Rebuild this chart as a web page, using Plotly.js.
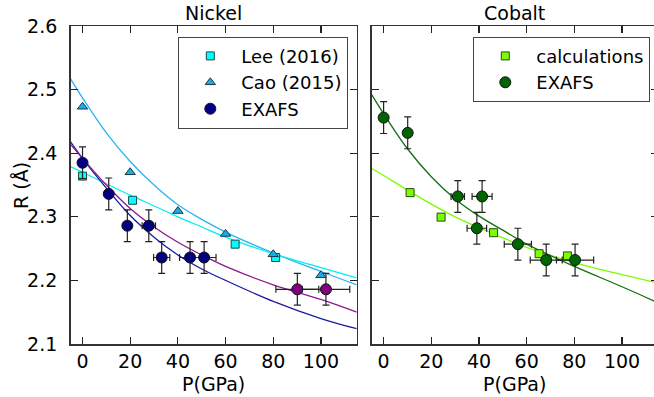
<!DOCTYPE html>
<html>
<head>
<meta charset="utf-8">
<script src="https://cdn.plot.ly/plotly-3.0.1.min.js"></script>
<style>
html, body { margin: 0; padding: 0; overflow: hidden; background: #fff; }
#chart { width: 660px; height: 397px; }
</style>
</head>
<body>
<div id="chart"></div>
<script>
// ---------- Nickel ----------
const niLeeP = [0, 21, 64, 81];
const niLeeR = [2.364, 2.326, 2.257, 2.236];

const niCaoP = [0, 20, 40, 60, 80, 100];
const niCaoR = [2.473, 2.370, 2.309, 2.273, 2.241, 2.208];

const niExafsP = [0, 11, 18.8, 27.8, 33.2, 45.1, 51.0];
const niExafsR = [2.385, 2.336, 2.286, 2.286, 2.236, 2.236, 2.236];
const niExafsPErr = [0, 0, 0, 2.8, 3.4, 4.4, 5.0];
const niExafsRErr = [0.025, 0.025, 0.025, 0.025, 0.025, 0.025, 0.025];

const niHighP = [90.1, 102.1];
const niHighR = [2.186, 2.186];
const niHighPErr = [9, 10];
const niHighRErr = [0.025, 0.025];

// fit curves
const curveP = [-5, 0, 10, 20, 30, 40, 50, 60, 80, 100, 115];
const niCaoFit   = [2.517, 2.487, 2.432, 2.387, 2.350, 2.319, 2.296, 2.276, 2.243, 2.214, 2.193];
const niLeeFit   = [2.379, 2.370, 2.352, 2.334, 2.317, 2.300, 2.284, 2.268, 2.242, 2.220, 2.204];
const niExafsFit = [2.418, 2.392, 2.345, 2.302, 2.268, 2.240, 2.218, 2.200, 2.167, 2.140, 2.124];
const niHighFit  = [2.414, 2.392, 2.350, 2.313, 2.284, 2.260, 2.240, 2.222, 2.193, 2.170, 2.150];

// ---------- Cobalt ----------
const coCalcP = [11.1, 24.1, 46.1, 65.2, 77.1];
const coCalcR = [2.338, 2.2995, 2.275, 2.242, 2.2385];

const coExafsP = [0, 10.1, 31.1, 41.3, 39.1, 56.3, 68.2, 80.3];
const coExafsR = [2.456, 2.432, 2.332, 2.332, 2.282, 2.257, 2.232, 2.232];
const coExafsPErr = [0, 0, 2.8, 4.2, 4.1, 5.7, 6.7, 7.8];
const coExafsRErr = [0.025, 0.025, 0.025, 0.025, 0.025, 0.025, 0.025, 0.025];

const coCalcFit  = [2.376, 2.365, 2.342, 2.320, 2.300, 2.283, 2.267, 2.252, 2.228, 2.209, 2.196];
const coExafsFit = [2.492, 2.462, 2.407, 2.363, 2.328, 2.301, 2.279, 2.257, 2.222, 2.190, 2.165];

const xTicks = [0, 20, 40, 60, 80, 100];
const yTicks = [2.1, 2.2, 2.3, 2.4, 2.5, 2.6];
const titles = ['Nickel', 'Cobalt'];
const xTitle = 'P(GPa)';
const yTitle = 'R (Å)';

const FONT = 'DejaVu Sans, sans-serif';

function fit(x, y, color, xa, ya) {
  return {x: x, y: y, mode: 'lines', line: {color: color, width: 1.3, shape: 'spline'},
          xaxis: xa, yaxis: ya, showlegend: false, hoverinfo: 'skip'};
}
function errs(arr, w) {
  return {type: 'data', array: arr, visible: true, color: '#222', thickness: 1.2, width: w};
}

const traces = [
  fit(curveP, niCaoFit, '#2bb3f2', 'x', 'y'),
  fit(curveP, niLeeFit, '#00f0f0', 'x', 'y'),
  fit(curveP, niExafsFit, '#1c1ca0', 'x', 'y'),
  fit(curveP, niHighFit, '#8c1a8c', 'x', 'y'),
  fit(curveP, coCalcFit, '#7cfc00', 'x2', 'y2'),
  fit(curveP, coExafsFit, '#136f13', 'x2', 'y2'),
  {x: niHighP, y: niHighR, mode: 'markers', xaxis: 'x', yaxis: 'y', showlegend: false,
   error_x: errs(niHighPErr, 3.5), error_y: errs(niHighRErr, 3.5),
   marker: {symbol: 'circle', size: 11, color: '#800080', line: {color: '#111', width: 1}}},
  {x: niLeeP, y: niLeeR, mode: 'markers', name: 'Lee (2016)', xaxis: 'x', yaxis: 'y', legend: 'legend',
   marker: {symbol: 'square', size: 8, color: '#00ffff', line: {color: '#1a4a4a', width: 1}}},
  {x: niCaoP, y: niCaoR, mode: 'markers', name: 'Cao (2015)', xaxis: 'x', yaxis: 'y', legend: 'legend',
   marker: {symbol: 'triangle-up', size: 9, color: '#1eaae6', line: {color: '#1a3a4a', width: 1}}},
  {x: niExafsP, y: niExafsR, mode: 'markers', name: 'EXAFS', xaxis: 'x', yaxis: 'y', legend: 'legend',
   error_x: errs(niExafsPErr, 3.5), error_y: errs(niExafsRErr, 3.5),
   marker: {symbol: 'circle', size: 11, color: '#000080', line: {color: '#111', width: 1}}},
  {x: coCalcP, y: coCalcR, mode: 'markers', name: 'calculations', xaxis: 'x2', yaxis: 'y2', legend: 'legend2',
   marker: {symbol: 'square', size: 8, color: '#7cfc00', line: {color: '#2a4a10', width: 1}}},
  {x: coExafsP, y: coExafsR, mode: 'markers', name: 'EXAFS', xaxis: 'x2', yaxis: 'y2', legend: 'legend2',
   error_x: errs(coExafsPErr, 3.5), error_y: errs(coExafsRErr, 3.5),
   marker: {symbol: 'circle', size: 11, color: '#006400', line: {color: '#111', width: 1}}}
];

const W = 660, H = 397;
const axisCommon = {
  showgrid: false, zeroline: false, showline: true, linecolor: '#333', linewidth: 1.5,
  mirror: 'ticks', ticks: 'inside', ticklen: 7, tickwidth: 1.2, tickcolor: '#222',
  tickfont: {family: FONT, size: 19, color: '#000'}
};
const xCommon = Object.assign({}, axisCommon, {
  range: [-5, 115], tickvals: xTicks, ticktext: xTicks.map(String), ticklabelstandoff: 0,
  title: {text: xTitle, font: {family: FONT, size: 19, color: '#000'}, standoff: 6}
});

const legendCommon = {
  xanchor: 'left', yanchor: 'top',
  bgcolor: '#fff', bordercolor: '#444', borderwidth: 1,
  font: {family: FONT, size: 18, color: '#000'}, itemwidth: 52, tracegroupgap: 2
};

const layout = {
  width: W, height: H,
  margin: {l: 0, r: 0, t: 26, b: 53},
  paper_bgcolor: '#fff', plot_bgcolor: '#fff',
  font: {family: FONT, size: 18, color: '#000'},
  xaxis: Object.assign({}, xCommon, {domain: [70.6 / W, 356.7 / W], anchor: 'y'}),
  xaxis2: Object.assign({}, xCommon, {domain: [371.7 / W, 657.8 / W], anchor: 'y2'}),
  yaxis: Object.assign({}, axisCommon, {
    range: [2.1, 2.6], tickvals: yTicks, ticktext: yTicks.map(v => v.toFixed(1)), anchor: 'x',
    ticklabelstandoff: 8
  }),
  yaxis2: Object.assign({}, axisCommon, {
    range: [2.1, 2.6], tickvals: yTicks, showticklabels: false, anchor: 'x2'
  }),
  legend: Object.assign({}, legendCommon, {x: 178.3 / W, y: (344 - 36.7) / 318}),
  legend2: Object.assign({}, legendCommon, {x: 473.3 / W, y: (344 - 36.7) / 318}),
  annotations: [
    {text: titles[0], xref: 'paper', yref: 'paper', x: (70.6 + 356.7) / 2 / W, y: 1,
     xanchor: 'center', yanchor: 'bottom', yshift: 0, showarrow: false,
     font: {family: FONT, size: 19, color: '#000'}},
    {text: titles[1], xref: 'paper', yref: 'paper', x: (371.7 + 657.8) / 2 / W, y: 1,
     xanchor: 'center', yanchor: 'bottom', yshift: 0, showarrow: false,
     font: {family: FONT, size: 19, color: '#000'}},
    {text: yTitle, xref: 'paper', yref: 'paper', x: 21 / W, y: 0.5,
     xanchor: 'center', yanchor: 'middle', textangle: -90, showarrow: false,
     font: {family: FONT, size: 19, color: '#000'}}
  ],
  showlegend: true
};

Plotly.newPlot('chart', traces, layout, {staticPlot: true, displayModeBar: false});
</script>
</body>
</html>
